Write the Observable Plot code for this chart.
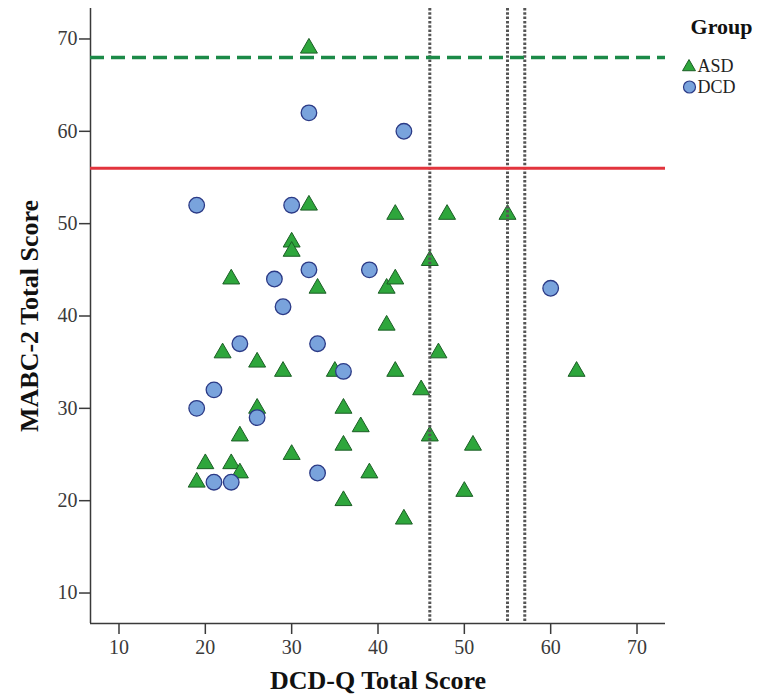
<!DOCTYPE html>
<html>
<head>
<meta charset="utf-8">
<script src="https://cdn.jsdelivr.net/npm/d3@7"></script>
<script src="https://cdn.jsdelivr.net/npm/@observablehq/plot@0.6"></script>
<style>
  body { margin: 0; background: #fff; }
  #chart svg { display: block; }
</style>
</head>
<body>
<div id="chart"></div>
<script>
// ASD group (triangles): DCD-Q total score (x) and MABC-2 total score (y)
const asdX = [32, 32, 30, 30, 23, 33, 41, 42, 42, 48, 55, 46, 41, 22, 26, 29, 35, 42, 47, 63, 45, 26, 36, 38, 24, 36, 46, 51, 30, 20, 23, 24, 39, 19, 36, 50, 43];
const asdY = [69, 52, 48, 47, 44, 43, 43, 44, 51, 51, 51, 46, 39, 36, 35, 34, 34, 34, 36, 34, 32, 30, 30, 28, 27, 26, 27, 26, 25, 24, 24, 23, 23, 22, 20, 21, 18];

// DCD group (circles)
const dcdX = [32, 43, 19, 30, 32, 39, 28, 29, 60, 24, 33, 36, 21, 19, 26, 33, 21, 23];
const dcdY = [62, 60, 52, 52, 45, 45, 44, 41, 43, 37, 37, 34, 32, 30, 29, 23, 22, 22];

// Reference lines
const mabcDashedCut = [68];      // green dashed horizontal
const mabcSolidCut = [56];       // red horizontal
const dcdqCuts = [46, 55, 57];   // grey dotted verticals

// Axes
const xTicks = [10, 20, 30, 40, 50, 60, 70];
const yTicks = [10, 20, 30, 40, 50, 60, 70];
const xDomain = [6.7, 73.3];
const yDomain = [6.7, 73.3];

const xTitle = "DCD-Q Total Score";
const yTitle = "MABC-2 Total Score";
const legendTitle = "Group";
const groups = ["ASD", "DCD"];

const asd = asdX.map((x, i) => ({x, y: asdY[i], group: "ASD"}));
const dcd = dcdX.map((x, i) => ({x, y: dcdY[i], group: "DCD"}));

const serif = "'Liberation Serif', 'Times New Roman', serif";
const triFill = "#2ea63c", triStroke = "#1b5e25";
const cirFill = "#79a3dc", cirStroke = "#2b3a86";
const axisColor = "#3a3a3a";

const chart = Plot.plot({
  width: 767,
  height: 694,
  marginLeft: 90,
  marginRight: 102,
  marginTop: 8,
  marginBottom: 71,
  style: {fontFamily: serif, fontSize: "20px", background: "#fff", color: "#333"},
  x: {domain: xDomain},
  y: {domain: yDomain},
  marks: [
    Plot.axisX({ticks: xTicks, tickSize: 11, tickPadding: 5, label: null, fontSize: 20, color: axisColor, strokeWidth: 1.5}),
    Plot.axisY({ticks: yTicks, tickSize: 11, tickPadding: 2, label: null, fontSize: 20, color: axisColor, strokeWidth: 1.5}),
    Plot.ruleX([xDomain[0]], {stroke: axisColor, strokeWidth: 1.5}),
    Plot.ruleY([yDomain[0]], {stroke: axisColor, strokeWidth: 1.5}),
    Plot.dot(asd, {x: "x", y: "y", symbol: "triangle", r: 6.3, fill: triFill, stroke: triStroke, strokeWidth: 1}),
    Plot.dot(dcd, {x: "x", y: "y", symbol: "circle", r: 7.8, fill: cirFill, stroke: cirStroke, strokeWidth: 1.3}),
    Plot.ruleX(dcdqCuts, {stroke: "#555", strokeWidth: 3, strokeDasharray: "2.5,1.8"}),
    Plot.ruleY(mabcSolidCut, {stroke: "#e2343d", strokeWidth: 3}),
    Plot.ruleY(mabcDashedCut, {stroke: "#1c8a48", strokeWidth: 3.5, strokeDasharray: "14,7"}),
    // axis titles
    Plot.text([xTitle], {text: d => d, frameAnchor: "bottom", textAnchor: "middle", lineAnchor: "middle", dy: 57, fontWeight: "bold", fontSize: 26, fill: "#111"}),
    Plot.text([yTitle], {text: d => d, frameAnchor: "left", textAnchor: "middle", lineAnchor: "middle", dx: -61, rotate: -90, fontWeight: "bold", fontSize: 26, fill: "#111"}),
    // legend
    Plot.text([legendTitle], {text: d => d, frameAnchor: "top-right", textAnchor: "middle", lineAnchor: "middle", dx: 56, dy: 18, fontWeight: "bold", fontSize: 22, fill: "#111"}),
    Plot.dot([groups[0]], {frameAnchor: "top-right", dx: 23.5, dy: 58.5, symbol: "triangle", r: 4.8, fill: triFill, stroke: triStroke, strokeWidth: 1}),
    Plot.dot([groups[1]], {frameAnchor: "top-right", dx: 24, dy: 78.5, symbol: "circle", r: 6, fill: cirFill, stroke: cirStroke, strokeWidth: 1.2}),
    Plot.text([groups[0]], {text: d => d, frameAnchor: "top-right", textAnchor: "start", lineAnchor: "middle", dx: 32, dy: 58, fontSize: 18, fill: "#222"}),
    Plot.text([groups[1]], {text: d => d, frameAnchor: "top-right", textAnchor: "start", lineAnchor: "middle", dx: 32, dy: 78.5, fontSize: 18, fill: "#222"})
  ]
});
document.getElementById("chart").append(chart);
</script>
</body>
</html>
